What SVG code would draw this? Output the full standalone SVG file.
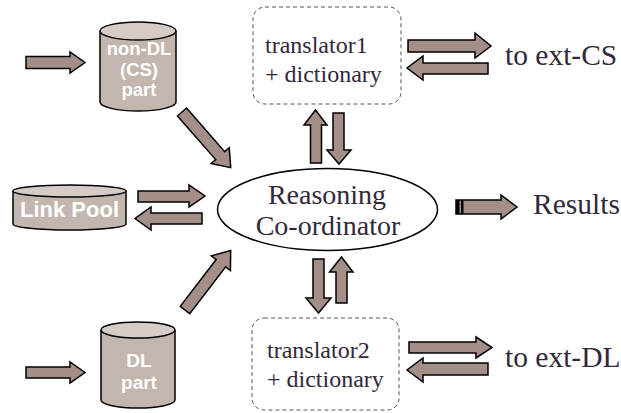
<svg xmlns="http://www.w3.org/2000/svg" width="621" height="413" viewBox="0 0 621 413">
  <style>
    .arrow { fill: #a38f87; stroke: #000; stroke-width: 1.5; stroke-linejoin: miter; }
    .cyl-body { fill: #c3b6ae; stroke: #000; stroke-width: 1.5; }
    .cyl-top { fill: #d6ccc7; stroke: #000; stroke-width: 1.5; }
    .cyl-label { font-family: "Liberation Sans", Arial, sans-serif; font-weight: bold; fill: #ffffff; text-anchor: middle; }
    .box { fill: #ffffff; stroke: #555; stroke-width: 1; stroke-dasharray: 4 3; }
    .serif { font-family: "Liberation Serif", "Times New Roman", serif; fill: #33283a; }
  </style>
  <rect width="621" height="413" fill="#ffffff"/>

  <!-- non-DL (CS) store -->
  <g id="nonDL">
    <path class="cyl-body" d="M100,31 L100,102 A38,9 0 0 0 176,102 L176,31"/>
    <ellipse class="cyl-top" cx="138" cy="31" rx="38" ry="9"/>
    <text class="cyl-label" x="139" y="55" font-size="18.5">non-DL</text>
    <text class="cyl-label" x="139" y="75.5" font-size="18.5">(CS)</text>
    <text class="cyl-label" x="139" y="96" font-size="18.5">part</text>
  </g>

  <!-- Link Pool store -->
  <g id="linkPool">
    <path class="cyl-body" d="M13,191 L13,224 A56.5,6 0 0 0 126,224 L126,191"/>
    <ellipse class="cyl-top" cx="69.5" cy="191" rx="56.5" ry="6"/>
    <text class="cyl-label" x="69.5" y="217" font-size="22">Link Pool</text>
  </g>

  <!-- DL store -->
  <g id="DL">
    <path class="cyl-body" d="M101,330 L101,400 A37,8 0 0 0 175,400 L175,330"/>
    <ellipse class="cyl-top" cx="138" cy="330" rx="37" ry="8"/>
    <text class="cyl-label" x="139" y="367" font-size="19">DL</text>
    <text class="cyl-label" x="139" y="389" font-size="19">part</text>
  </g>

  <!-- central co-ordinator -->
  <g id="coordinator">
    <ellipse cx="327.5" cy="209.5" rx="110" ry="41" fill="#ffffff" stroke="#000" stroke-width="1.5"/>
    <text class="serif" x="327" y="204" font-size="28" text-anchor="middle">Reasoning</text>
    <text class="serif" x="328" y="235" font-size="28" text-anchor="middle">Co-ordinator</text>
  </g>

  <!-- translators -->
  <g id="translator1">
    <rect class="box" x="253" y="7" width="148" height="97" rx="12" ry="12"/>
    <text class="serif" x="265" y="53" font-size="24">translator1</text>
    <text class="serif" x="265" y="82" font-size="24">+ dictionary</text>
  </g>
  <g id="translator2">
    <rect class="box" x="252" y="318" width="147" height="92" rx="12" ry="12"/>
    <text class="serif" x="267" y="358" font-size="24">translator2</text>
    <text class="serif" x="267" y="387" font-size="24">+ dictionary</text>
  </g>

  <!-- external endpoints -->
  <g id="extCS">
    <text class="serif" x="505" y="65" font-size="29.5">to ext-CS</text>
  </g>
  <g id="extDL">
    <text class="serif" x="505" y="367" font-size="29.5">to ext-DL</text>
  </g>
  <g id="results">
    <text class="serif" x="533" y="214" font-size="29.5">Results</text>
  </g>

  <!-- block arrows -->
  <g id="connectors">
    <!-- inputs to the stores -->
    <polygon class="arrow" points="26,56.5 70,56.5 70,52 85,62.5 70,73 70,68.5 26,68.5"/>
    <polygon class="arrow" points="26,367 70,367 70,362 85,372.5 70,383 70,378 26,378"/>

    <!-- stores to co-ordinator -->
    <polygon class="arrow" transform="translate(182,112) rotate(48.8)" points="0,-6 58,-6 58,-12 74,0 58,12 58,6 0,6"/>
    <polygon class="arrow" transform="translate(185,310) rotate(-52.5)" points="0,-6 59,-6 59,-12 75,0 59,12 59,6 0,6"/>

    <!-- link pool exchange -->
    <polygon class="arrow" points="138,191 189,191 189,185 205,196 189,207 189,202 138,202"/>
    <polygon class="arrow" points="202,213 151,213 151,207 135,218.5 151,230 151,224 202,224"/>

    <!-- translator1 exchange -->
    <polygon class="arrow" points="310.5,163 310.5,125 304,125 315.5,110 327,125 321.5,125 321.5,163"/>
    <polygon class="arrow" points="333,113 333,150 327,150 339,164 351,150 344,150 344,113"/>

    <!-- translator2 exchange -->
    <polygon class="arrow" points="313,259 313,298 306,298 318.5,313 331,298 324,298 324,259"/>
    <polygon class="arrow" points="336,303 336,272 329.5,272 341.5,257 353,272 347,272 347,303"/>

    <!-- external CS link -->
    <polygon class="arrow" points="408,40 475,40 475,33 491,46 475,58 475,52 408,52"/>
    <polygon class="arrow" points="488,63 423,63 423,56 407,68 423,80 423,74 488,74"/>

    <!-- external DL link -->
    <polygon class="arrow" points="409,342 476,342 476,337 492,347.5 476,358 476,353 409,353"/>
    <polygon class="arrow" points="488,363 423,363 423,358 407,370 423,382 423,375 488,375"/>

    <!-- results output -->
    <polygon class="arrow" points="456,200 501,200 501,195 517,207 501,219 501,214 456,214"/>
    <rect x="456" y="200" width="3.5" height="14" fill="#000"/>
    <rect x="461" y="200" width="2.5" height="14" fill="#000"/>
  </g>
</svg>
